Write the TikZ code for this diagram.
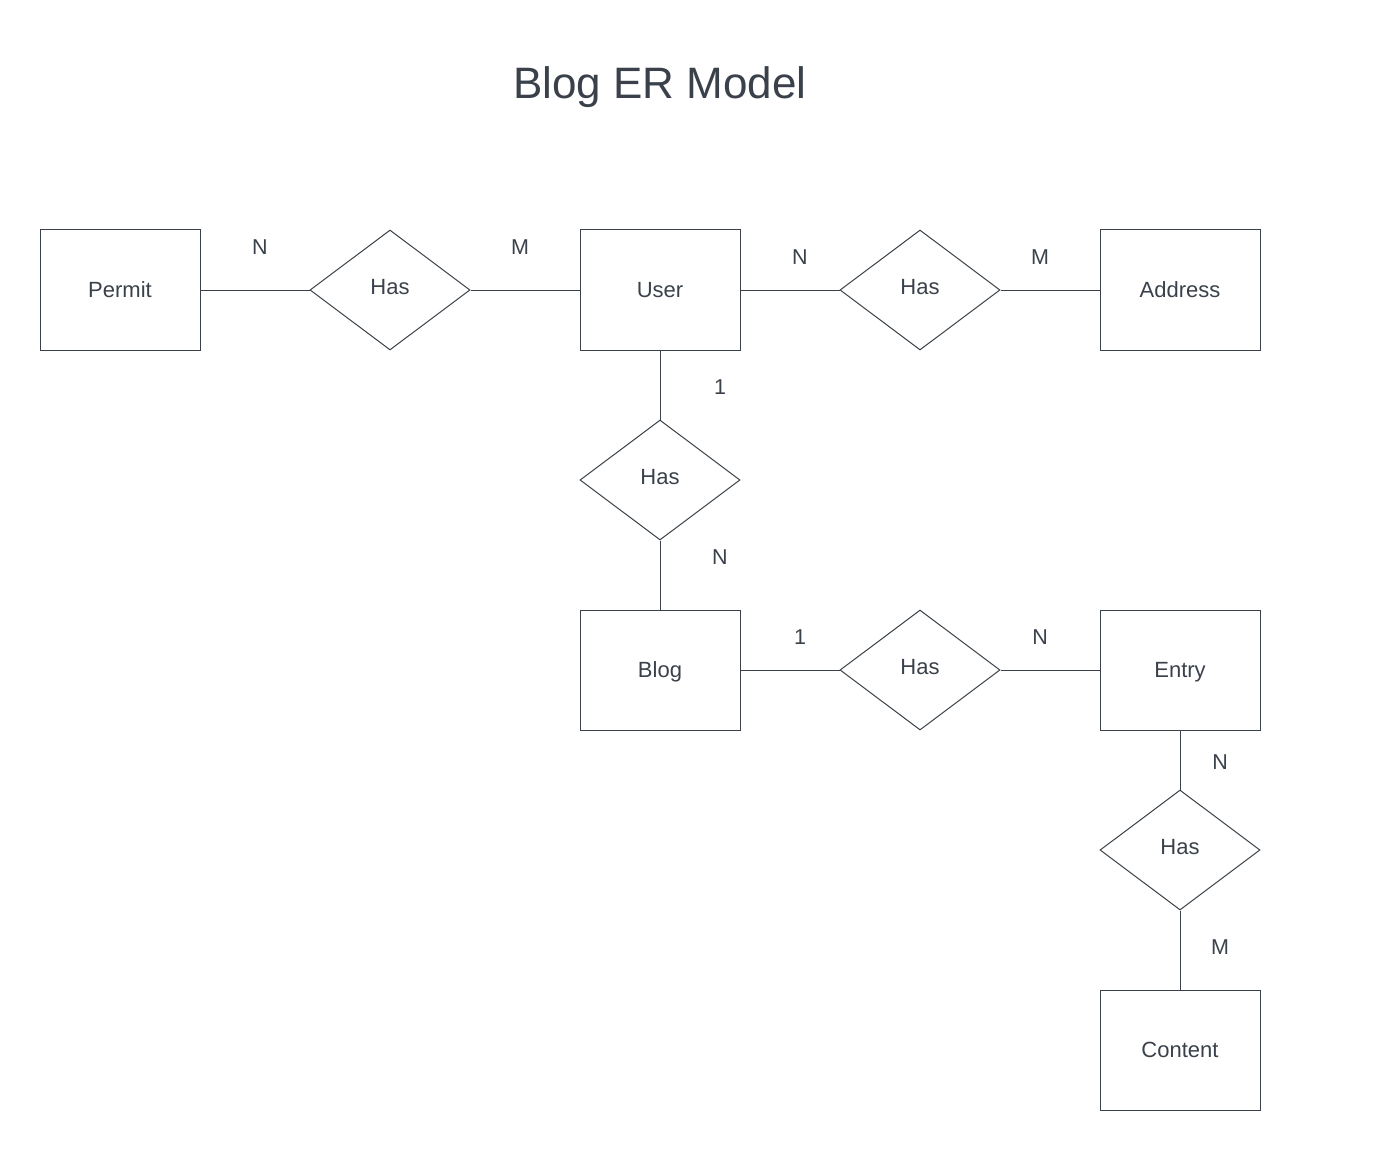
\documentclass[tikz,border=0pt]{standalone}
\usepackage{fontspec}
\setmainfont{Liberation Sans}
\usetikzlibrary{shapes.geometric}
\definecolor{ink}{HTML}{3A414A}
\tikzset{
  entity/.style={draw=ink, line width=1pt, minimum width=160pt, minimum height=120pt, inner sep=0pt, text=ink, text height=16pt, text depth=2pt, font=\fontsize{22}{24}\selectfont},
  rel/.style={draw=ink, line width=1pt, diamond, minimum width=160pt, minimum height=120pt, inner sep=0pt, text=ink, text height=16pt, text depth=8pt, font=\fontsize{22}{24}\selectfont},
  card/.style={text=ink, inner sep=0pt, font=\fontsize{21.5}{24}\selectfont},
  link/.style={draw=ink, line width=1pt}
}
\begin{document}
\begin{tikzpicture}[x=1pt,y=-1pt]
\useasboundingbox (0,0) rectangle (1380,1150);
\node[text=ink, font=\fontsize{44}{50}\selectfont] (title) at (660,87) {Blog ER Model};

\node[entity] (permit) at (120,290) {Permit};
\node[entity] (user) at (660,290) {User};
\node[entity] (address) at (1180,290) {Address};
\node[entity] (blog) at (660,670) {Blog};
\node[entity] (entry) at (1180,670) {Entry};
\node[entity] (content) at (1180,1050) {Content};

\node[rel] (has1) at (390,290) {Has};
\node[rel] (has2) at (920,290) {Has};
\node[rel] (has3) at (660,480) {Has};
\node[rel] (has4) at (920,670) {Has};
\node[rel] (has5) at (1180,850) {Has};

\draw[link] (permit.east) -- (has1.west);
\draw[link] (has1.east) -- (user.west);
\draw[link] (user.east) -- (has2.west);
\draw[link] (has2.east) -- (address.west);
\draw[link] (user.south) -- (has3.north);
\draw[link] (has3.south) -- (blog.north);
\draw[link] (blog.east) -- (has4.west);
\draw[link] (has4.east) -- (entry.west);
\draw[link] (entry.south) -- (has5.north);
\draw[link] (has5.south) -- (content.north);

\node[card] (c1) at (260,247) {N};
\node[card] (c2) at (520,247) {M};
\node[card] (c3) at (800,257) {N};
\node[card] (c4) at (1040,257) {M};
\node[card] (c5) at (720,387) {1};
\node[card] (c6) at (720,557) {N};
\node[card] (c7) at (800,637) {1};
\node[card] (c8) at (1040,637) {N};
\node[card] (c9) at (1220,762) {N};
\node[card] (c10) at (1220,947) {M};
\end{tikzpicture}
\end{document}
